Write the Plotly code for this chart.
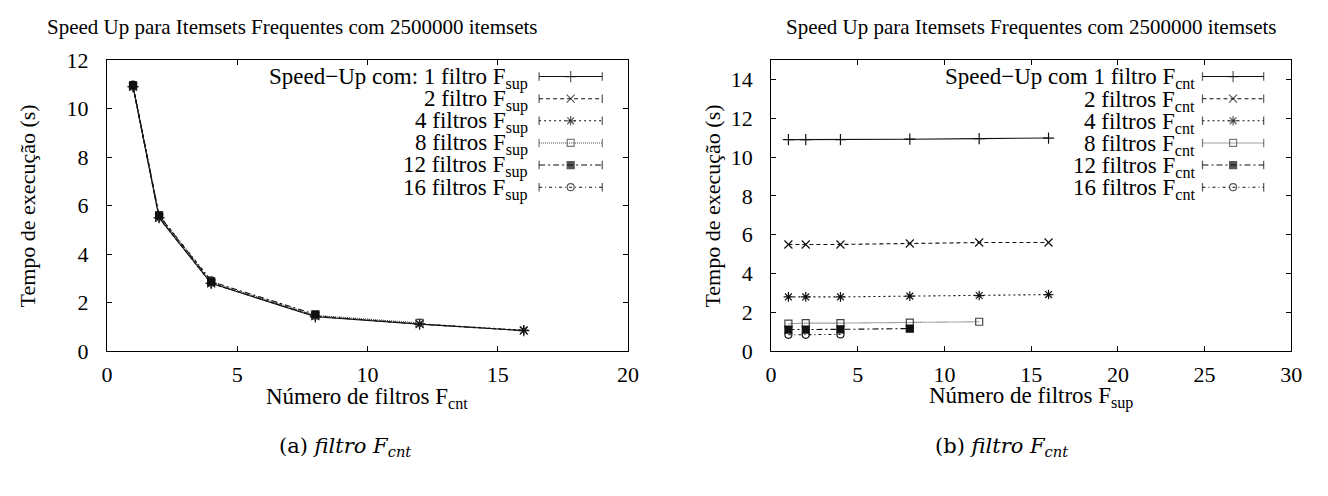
import plotly.graph_objects as go

# ---------------- data ----------------
# (a) time vs number of F_cnt filters, one series per number of F_sup filters
a_names = ["Speed\u2212Up com: 1 filtro F<sub>sup</sub>", "2 filtro F<sub>sup</sub>",
           "4 filtros F<sub>sup</sub>", "8 filtros F<sub>sup</sub>",
           "12 filtros F<sub>sup</sub>", "16 filtros F<sub>sup</sub>"]
a_x = [[1, 2, 4, 8, 12, 16], [1, 2, 4, 8, 12, 16], [1, 2, 4, 8, 12, 16],
       [1, 2, 4, 8, 12], [1, 2, 4, 8], [1, 2, 4]]
a_sup1 = [10.90, 5.50, 2.80, 1.42, 1.12, 0.85]
a_sup2 = [10.90, 5.50, 2.80, 1.45, 1.12, 0.85]
a_sup4 = [10.90, 5.50, 2.80, 1.45, 1.13, 0.87]
a_sup8 = [10.92, 5.55, 2.84, 1.48, 1.17]
a_sup12 = [10.95, 5.60, 2.87, 1.52]
a_sup16 = [10.98, 5.60, 2.92]
a_y = [a_sup1, a_sup2, a_sup4, a_sup8, a_sup12, a_sup16]

# (b) time vs number of F_sup filters, one series per number of F_cnt filters
b_names = ["Speed\u2212Up com 1 filtro F<sub>cnt</sub>", "2 filtros F<sub>cnt</sub>",
           "4 filtros F<sub>cnt</sub>", "8 filtros F<sub>cnt</sub>",
           "12 filtros F<sub>cnt</sub>", "16 filtros F<sub>cnt</sub>"]
b_x = [[1, 2, 4, 8, 12, 16], [1, 2, 4, 8, 12, 16], [1, 2, 4, 8, 12, 16],
       [1, 2, 4, 8, 12], [1, 2, 4, 8], [1, 2, 4]]
b_cnt1 = [10.90, 10.90, 10.90, 10.92, 10.95, 10.98]
b_cnt2 = [5.50, 5.50, 5.50, 5.55, 5.60, 5.60]
b_cnt4 = [2.80, 2.80, 2.80, 2.84, 2.87, 2.92]
b_cnt8 = [1.42, 1.45, 1.45, 1.48, 1.52]
b_cnt12 = [1.12, 1.12, 1.13, 1.17]
b_cnt16 = [0.85, 0.85, 0.87]
b_y = [b_cnt1, b_cnt2, b_cnt4, b_cnt8, b_cnt12, b_cnt16]

a_xticks = [0, 5, 10, 15, 20]
a_yticks = [0, 2, 4, 6, 8, 10, 12]
b_xticks = [0, 5, 10, 15, 20, 25, 30]
b_yticks = [0, 2, 4, 6, 8, 10, 12, 14]

title_text = "Speed Up para Itemsets Frequentes com 2500000 itemsets"

# ---------------- styles ----------------
W, H = 1328, 496
FONT = "Liberation Serif"
FS = 22
FS_KEY = 23
dashes = ["solid", "4px,3px", "2px,3px", "1px,1px", "6px,3px,2px,3px", "3px,3px,1px,3px"]
symbols = ["cross-thin-open", "x-thin-open", "asterisk-open", "square-open", "square", "circle-open"]
msizes = [8, 8, 8, 7, 7, 7]
colors = ["#111", "#111", "#111", "#444", "#111", "#111"]

def px_x(p):
    return p / W

def px_y(p):
    return 1 - p / H

TOP, BOT = 50.5, 357.3
A_L, A_R = 102.3, 630.0
B_L, B_R = 775.0, 1302.0

fig = go.Figure()

def add_panel(xs_list, ys_list, xa, ya):
    for i, (xs, ys) in enumerate(zip(xs_list, ys_list)):
        fig.add_trace(go.Scatter(
            x=xs, y=ys, mode="lines+markers", xaxis=xa, yaxis=ya, showlegend=False,
            line=dict(color=colors[i], width=1.1, dash=dashes[i]),
            marker=dict(symbol=symbols[i], size=msizes[i], color=colors[i],
                        line=dict(color=colors[i], width=1.2)),
        ))

add_panel(a_x, a_y, "x", "y")
add_panel(b_x, b_y, "x2", "y2")

# custom gnuplot-style key (text on the left, sample on the right)
def add_key(names, xa, ya, left, right, text_right_px, samp_l_px, samp_r_px, rows_px):
    w = right - left
    h = BOT - TOP
    for i, name in enumerate(names):
        yy = (BOT - rows_px[i]) / h
        x0 = (samp_l_px - left) / w
        x1 = (samp_r_px - left) / w
        xm = (x0 + x1) / 2
        fig.add_trace(go.Scatter(
            x=[x0, xm, x1], y=[yy, yy, yy], mode="lines+markers", xaxis=xa, yaxis=ya,
            showlegend=False, hoverinfo="skip",
            line=dict(color=colors[i], width=1.1, dash=dashes[i]),
            marker=dict(symbol=["line-ns-open", symbols[i], "line-ns-open"],
                        size=[6, msizes[i], 6], color=colors[i],
                        line=dict(color=colors[i], width=1.2)),
        ))
        fig.add_annotation(
            xref="paper", yref="paper", x=px_x(text_right_px), y=px_y(rows_px[i] + 2),
            text=name, showarrow=False, xanchor="right", yanchor="middle",
            font=dict(family=FONT, size=FS_KEY, color="black"),
        )

rows = [68, 91.3, 114.6, 137.9, 161.2, 184.5]
add_key(a_names, "x3", "y3", A_L, A_R, 531, 540, 604, rows)
add_key(b_names, "x4", "y4", B_L, B_R, 1206, 1212, 1274, rows)

axis_common = dict(showline=True, linecolor="black", linewidth=1, mirror="ticks",
                   ticks="inside", ticklen=5, tickcolor="black", tickwidth=1,
                   showgrid=False, zeroline=False,
                   tickfont=dict(family=FONT, size=FS, color="black"))
xstyle = dict(ticklabelstandoff=3, **axis_common)
ystyle = dict(ticklabelstandoff=13, **axis_common)

fig.update_layout(
    width=W, height=H, margin=dict(l=0, r=0, t=0, b=0),
    paper_bgcolor="white", plot_bgcolor="white",
    xaxis=dict(domain=[px_x(A_L), px_x(A_R)], range=[0, 20], tickvals=a_xticks, anchor="y", **xstyle),
    yaxis=dict(domain=[px_y(BOT), px_y(TOP)], range=[0, 12], tickvals=a_yticks, anchor="x", **ystyle),
    xaxis2=dict(domain=[px_x(B_L), px_x(B_R)], range=[0, 30], tickvals=b_xticks, anchor="y2", **xstyle),
    yaxis2=dict(domain=[px_y(BOT), px_y(TOP)], range=[0, 15], tickvals=b_yticks, anchor="x2", **ystyle),
    xaxis3=dict(overlaying="x", range=[0, 1], visible=False, anchor="y3"),
    yaxis3=dict(overlaying="y", range=[0, 1], visible=False, anchor="x3"),
    xaxis4=dict(overlaying="x2", range=[0, 1], visible=False, anchor="y4"),
    yaxis4=dict(overlaying="y2", range=[0, 1], visible=False, anchor="x4"),
    font=dict(family=FONT, size=FS, color="black"),
)

def ann(x, y, text, size=FS, angle=0, fam=FONT):
    fig.add_annotation(xref="paper", yref="paper", x=px_x(x), y=px_y(y), text=text,
                       showarrow=False, xanchor="center", yanchor="middle", textangle=angle,
                       font=dict(family=fam, size=size, color="black"))

# titles
ann(290, 16, title_text, size=21)
ann(1038, 16, title_text, size=21)
# axis titles
ann(22, 204, "Tempo de execução (s)", angle=-90)
ann(716, 204, "Tempo de execução (s)", angle=-90)
ann(366, 406, "Número de filtros F<sub>cnt</sub>", size=FS_KEY)
ann(1038, 406, "Número de filtros F<sub>sup</sub>", size=FS_KEY)
# captions
ann(343, 458, "(a) <i>filtro F<sub>cnt</sub></i>", fam="DejaVu Serif", size=21)
ann(1008, 458, "(b) <i>filtro F<sub>cnt</sub></i>", fam="DejaVu Serif", size=21)

fig.write_html("out.html")
